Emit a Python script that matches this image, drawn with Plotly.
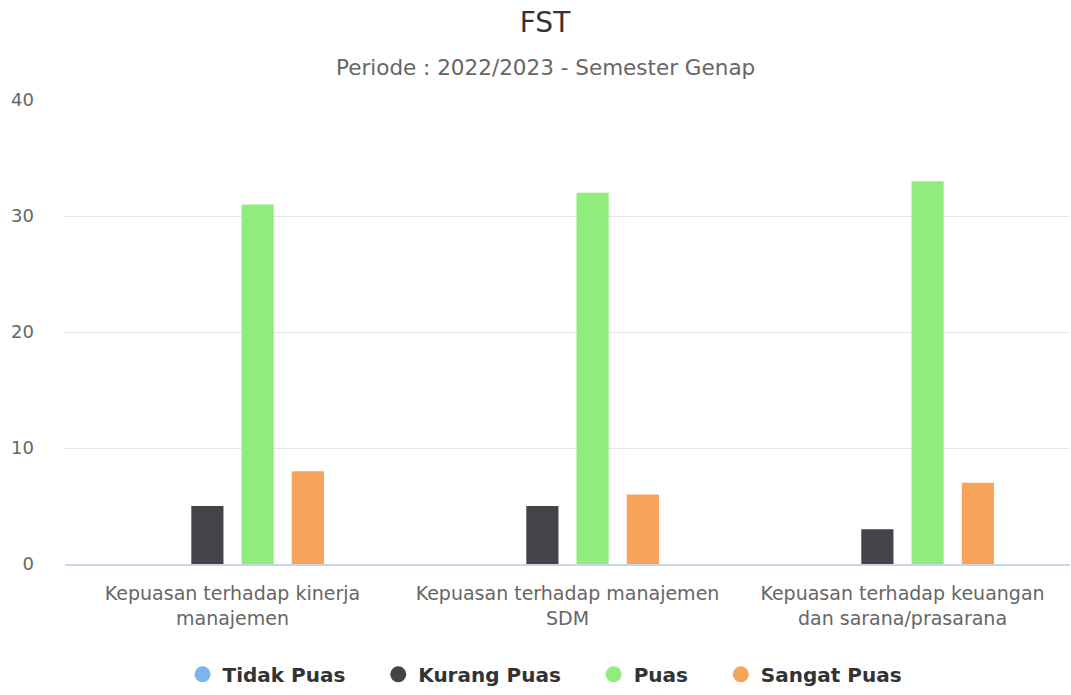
import plotly.graph_objects as go

categories = ["Kepuasan terhadap kinerja<br>manajemen",
              "Kepuasan terhadap manajemen<br>SDM",
              "Kepuasan terhadap keuangan<br>dan sarana/prasarana"]
series_names = ["Tidak Puas", "Kurang Puas", "Puas", "Sangat Puas"]
tidak_puas = [0, 0, 0]
kurang_puas = [5, 5, 3]
puas = [31, 32, 33]
sangat_puas = [8, 6, 7]
colors = ["#7cb5ec", "#434348", "#90ed7d", "#f7a35c"]
title_text = "FST"
subtitle_text = "Periode : 2022/2023 - Semester Genap"

values = [tidak_puas, kurang_puas, puas, sangat_puas]
font = "DejaVu Sans, Verdana, sans-serif"

fig = go.Figure()
for name, vals, c in zip(series_names, values, colors):
    fig.add_trace(go.Bar(x=categories, y=vals, name=name, marker_color=c,
                         marker_line_width=0, showlegend=False))
for i, (name, c) in enumerate(zip(series_names, colors)):
    pad = "\u00a0" * 4 if i < len(series_names) - 1 else ""
    fig.add_trace(go.Scatter(x=[None], y=[None], mode="markers", name=name + pad,
                             marker=dict(symbol="circle", size=18, color=c)))

fig.update_layout(
    width=1071, height=695,
    paper_bgcolor="white", plot_bgcolor="white",
    margin=dict(l=65, r=1, t=100, b=128),
    barmode="group", bargap=0.4, bargroupgap=0.36,
    title=dict(text=title_text, x=545 / 1071, xanchor="center", yref="container",
               y=1 - 22 / 695, yanchor="middle",
               font=dict(family=font, size=28, color="#333333")),
    legend=dict(orientation="h", x=(545 - 65) / 1005, xanchor="center", y=-111 / 467,
                yanchor="middle",
                font=dict(family=font, size=20, color="#333333", weight="bold"),
                itemsizing="trace", itemwidth=30, tracegroupgap=0),
    font=dict(family=font),
    annotations=[dict(text=subtitle_text, xref="paper", yref="paper", x=(545 - 65) / 1005,
                      y=1 + 33 / 467, xanchor="center", yanchor="middle",
                      showarrow=False, font=dict(family=font, size=21.5, color="#666666"))],
)
fig.update_yaxes(range=[0, 40], tickvals=[0, 10, 20, 30, 40], showgrid=True,
                 gridcolor="#e6e6e6", gridwidth=1, zeroline=False, showline=False,
                 tickfont=dict(family=font, size=18, color="#666666"),
                 ticks="", ticklabelstandoff=30, automargin=False)
fig.update_xaxes(showline=True, linecolor="#ccd6eb", linewidth=2, showgrid=False,
                 tickfont=dict(family=font, size=19, color="#666666"), ticks="",
                 ticklabelstandoff=11, automargin=False)
fig.write_html(
    "out.html", config={"displayModeBar": False},
    post_script=("document.body.style.margin='0';"
                 "document.body.style.overflow='hidden';"
                 "document.body.style.height='695px';"
                 "document.documentElement.style.overflow='hidden';"
                 "document.documentElement.style.height='695px';"))
